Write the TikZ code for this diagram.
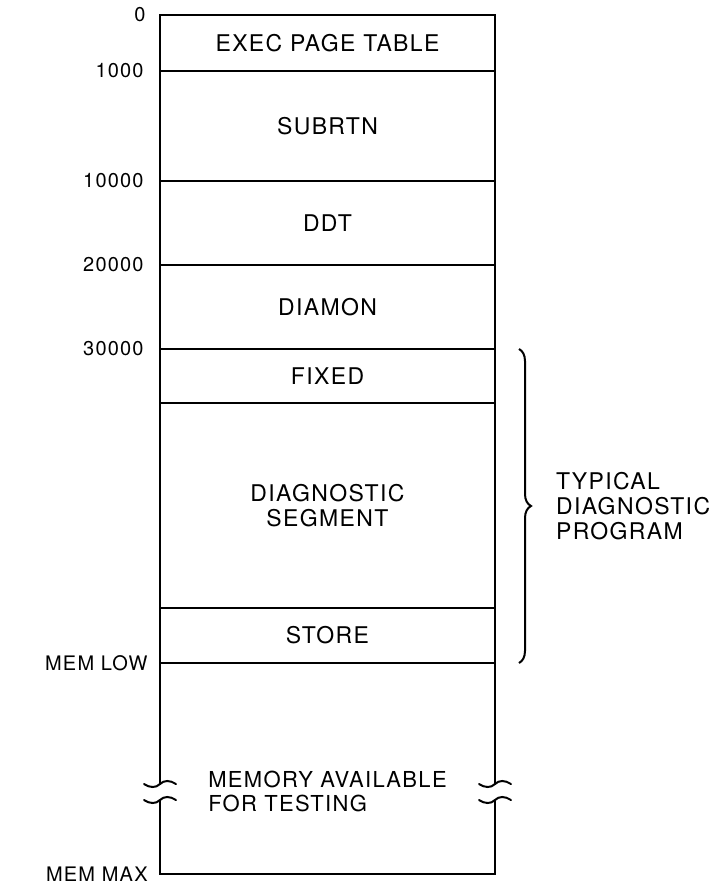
\documentclass[tikz,border=0pt]{standalone}
\usepackage{fontspec}
\setmainfont{TeX Gyre Heros}[LetterSpace=6]
\usetikzlibrary{positioning,decorations.pathreplacing}
\tikzset{node distance=0pt, auto,
  seg/.style={draw, line width=1pt, inner sep=0pt, outer sep=0pt, minimum width=167.5pt},
  addr/.style={inner sep=0pt, anchor=east, font=\fontsize{10}{12}\selectfont},
  brk/.style={line width=1pt, line cap=round}}

\begin{document}
\begin{tikzpicture}[x=0.5pt, y=-0.5pt,
  font=\fontsize{11.5}{12.5}\selectfont
]
\useasboundingbox (0,0) rectangle (718,885);
\node[seg, minimum height=28pt] (exec) at (327.5,43) {EXEC PAGE TABLE};
\node[seg, minimum height=55pt, below=of exec] (subrtn) {SUBRTN};
\node[seg, minimum height=42pt, below=of subrtn] (ddt) {DDT};
\node[seg, minimum height=42pt, below=of ddt] (diamon) {DIAMON};
\node[seg, minimum height=27pt, below=of diamon] (fixed) {FIXED};
\node[seg, minimum height=102.5pt, below=of fixed, align=center] (diag) {DIAGNOSTIC\\SEGMENT};
\node[seg, minimum height=27.5pt, below=of diag] (store) {STORE};

\node[addr, left=7pt of exec.north west] {0};
\node[addr, left=8pt of subrtn.north west] {1000};
\node[addr, left=8pt of ddt.north west] {10000};
\node[addr, left=8pt of diamon.north west] {20000};
\node[addr, left=8pt of fixed.north west] {30000};
\node[addr, left=6pt of store.south west] {MEM LOW};

\coordinate (lup) at (160,784);
\coordinate (llo) at (160,800);
\coordinate (rup) at (495,784);
\coordinate (rlo) at (495,800);
\coordinate (lbot) at (160,874);
\coordinate (rbot) at (495,874);
\node[addr, left=6pt of lbot] {MEM MAX};

\draw[brk] (store.south west) -- (lup);
\draw[brk] (store.south east) -- (rup);
\draw[brk] (llo) -- (lbot) -- (rbot) -- (rlo);
\foreach \c in {lup,llo,rup,rlo}
  \draw[brk] ([xshift=-8pt]\c) .. controls ([xshift=-5pt,yshift=-2pt]\c) and ([xshift=-2pt,yshift=-2pt]\c) .. (\c)
    .. controls ([xshift=2pt,yshift=2pt]\c) and ([xshift=5pt,yshift=2pt]\c) .. ([xshift=8pt]\c);

\node[align=left, font=\fontsize{11}{12}\selectfont] (avail) at (327.5,791) {MEMORY AVAILABLE\\FOR TESTING};

\draw[line width=1pt, decorate, decoration={brace, amplitude=6pt}]
  ([xshift=12pt]fixed.north east) -- ([xshift=12pt]store.south east) coordinate[midway, xshift=7pt] (tip);
\node[align=left, anchor=west, right=8pt of tip] (typical) {TYPICAL\\DIAGNOSTIC\\PROGRAM};
\end{tikzpicture}
\end{document}
